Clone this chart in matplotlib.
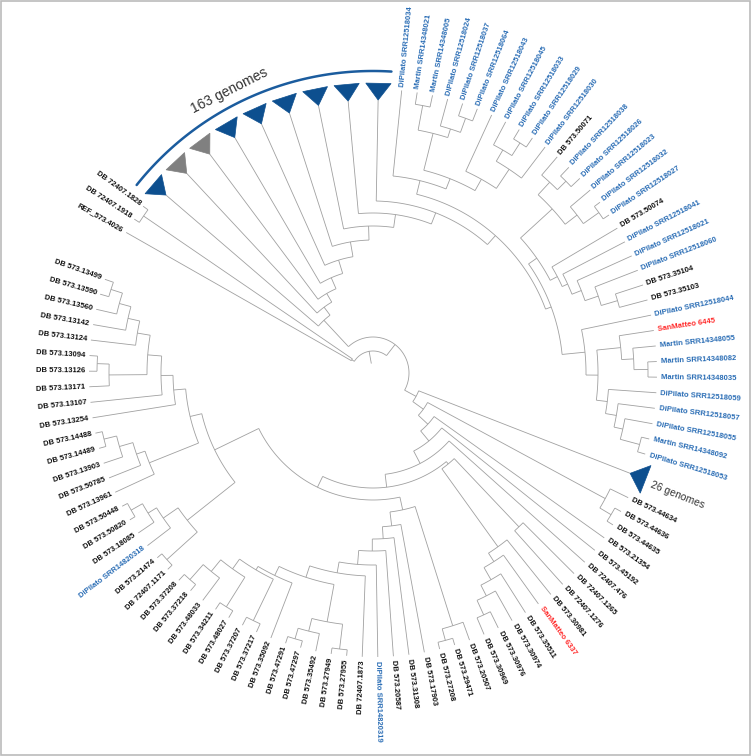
import numpy as np
import matplotlib.pyplot as plt
from matplotlib.patches import Polygon, Rectangle

plt.rcParams['font.family'] = ['Liberation Sans', 'DejaVu Sans']

# leaf order, clockwise starting at the reference strain
group_ref = ['REF_573.4026', 'DB 72407.1918', 'DB 72407.1828']
collapsed_top = ['T1', 'T2', 'T3', 'T4', 'T5', 'T6', 'T7', 'T8', 'T9']
collapsed_colors = {'T1': '#0d4f8f', 'T2': '#808080', 'T3': '#808080', 'T4': '#0d4f8f',
                    'T5': '#0d4f8f', 'T6': '#0d4f8f', 'T7': '#0d4f8f', 'T8': '#0d4f8f',
                    'T9': '#0d4f8f', 'T26': '#0d4f8f'}
group_right = ['DiPilato SRR12518034', 'Martin SRR14348021', 'Martin SRR14348005',
               'DiPilato SRR12518024', 'DiPilato SRR12518037', 'DiPilato SRR12518064',
               'DiPilato SRR12518043', 'DiPilato SRR12518045', 'DiPilato SRR12518033',
               'DiPilato SRR12518029', 'DiPilato SRR12518030', 'DB 573.50071',
               'DiPilato SRR12518038', 'DiPilato SRR12518026', 'DiPilato SRR12518023',
               'DiPilato SRR12518032', 'DiPilato SRR12518027', 'DB 573.50074',
               'DiPilato SRR12518041', 'DiPilato SRR12518021', 'DiPilato SRR12518060',
               'DB 573.35104', 'DB 573.35103', 'DiPilato SRR12518044', 'SanMatteo 6445',
               'Martin SRR14348055', 'Martin SRR14348082', 'Martin SRR14348035',
               'DiPilato SRR12518059', 'DiPilato SRR12518057', 'DiPilato SRR12518055',
               'Martin SRR14348092', 'DiPilato SRR12518053']
group_bottom = ['DB 573.44634', 'DB 573.44636', 'DB 573.44635', 'DB 573.21354',
                'DB 573.45192', 'DB 72407.476', 'DB 72407.1265', 'DB 72407.1276',
                'DB 573.30981', 'SanMatteo 6337', 'DB 573.35511', 'DB 573.30974',
                'DB 573.30976', 'DB 573.30969', 'DB 573.20507', 'DB 573.29471',
                'DB 573.27208', 'DB 573.17903', 'DB 573.31308', 'DB 573.20587',
                'DiPilato SRR14820319', 'DB 72407.1873', 'DB 573.27955', 'DB 573.27949',
                'DB 573.35492', 'DB 573.47297', 'DB 573.47291', 'DB 573.35092',
                'DB 573.37217', 'DB 573.37207', 'DB 573.48027', 'DB 573.34211',
                'DB 573.48033', 'DB 573.37218', 'DB 573.37208', 'DB 72407.1171',
                'DB 573.21474', 'DiPilato SRR14820318', 'DB 573.18085', 'DB 573.50820',
                'DB 573.50448', 'DB 573.13961', 'DB 573.50785', 'DB 573.13903',
                'DB 573.14489', 'DB 573.14488', 'DB 573.13254', 'DB 573.13107',
                'DB 573.13171', 'DB 573.13126', 'DB 573.13094', 'DB 573.13124',
                'DB 573.13142', 'DB 573.13560', 'DB 573.13590', 'DB 573.13499']

order = group_ref + collapsed_top + group_right + ['T26'] + group_bottom


def N(r, *kids):
    return {'r': r, 'kids': list(kids)}


# tree topology with node depths (pixels from the root)
A = N(25, 'REF_573.4026', N(278, 'DB 72407.1918', 'DB 72407.1828'))
G1a = N(198, 'DiPilato SRR12518034',
        N(209, N(247, N(272, 'Martin SRR14348021', 'Martin SRR14348005'),
                 N(256, 'DiPilato SRR12518024', N(271, 'DiPilato SRR12518037', 'DiPilato SRR12518064'))),
          N(222, 'DiPilato SRR12518043',
            N(245, N(258, 'DiPilato SRR12518045', N(273, 'DiPilato SRR12518033', 'DiPilato SRR12518029')),
              'DiPilato SRR12518030'))))
G1b = N(243, N(260, 'DB 573.50071', N(272, 'DiPilato SRR12518038', 'DiPilato SRR12518026')),
        N(258, 'DiPilato SRR12518023', N(277, 'DiPilato SRR12518032', 'DiPilato SRR12518027')))
G1c = N(208, 'DB 573.50074', N(214, 'DiPilato SRR12518041',
                                N(224, 'DiPilato SRR12518021',
                                  N(238, 'DiPilato SRR12518060', N(255, 'DB 573.35104', 'DB 573.35103')))))
G1d = N(213, 'DiPilato SRR12518044',
        N(225, N(249, 'SanMatteo 6445', N(261, 'Martin SRR14348055',
                                          N(275, 'Martin SRR14348082', 'Martin SRR14348035'))),
          N(236, 'DiPilato SRR12518059', N(247, 'DiPilato SRR12518057',
                                           N(256, 'DiPilato SRR12518055',
                                             N(276, 'Martin SRR14348092', 'DiPilato SRR12518053'))))))
G1 = N(184, G1a, N(190, N(200, G1b, G1c), G1d))
U8 = N(172, 'T9', G1)
U7 = N(160, 'T8', U8)
U6 = N(147, 'T7', U7)
U5 = N(133, 'T6', U6)
U4 = N(118, 'T5', U5)
U3 = N(104, 'T4', U4)
U2 = N(92, 'T3', U3)
U1 = N(82, 'T2', U2)
U0 = N(72, 'T1', U1)

G446 = N(264, 'DB 573.44634', N(277, 'DB 573.44636', 'DB 573.44635'))
G1265 = N(212, 'DB 72407.1265', 'DB 72407.1276')
G30981 = N(214, 'DB 573.30981', N(224, 'SanMatteo 6337', N(238, 'DB 573.35511',
                                   N(250, 'DB 573.30974', N(266, 'DB 573.30976', 'DB 573.30969')))))
X = N(118, G1265, G30981)
G20507 = N(265, 'DB 573.20507', N(277, 'DB 573.29471', 'DB 573.27208'))
BotR = N(253, N(278, 'DB 573.27955', 'DB 573.27949'),
         N(266, 'DB 573.35492', N(277, 'DB 573.47297', 'DB 573.47291')))
BotL = N(225, 'DB 573.35092',
         N(229, N(275, 'DB 573.37217', 'DB 573.37207'),
           N(241, N(276, 'DB 573.48027', 'DB 573.34211'),
             N(256, 'DB 573.48033', N(276, 'DB 573.37218', 'DB 573.37208')))))
Bot7 = N(215, BotR, BotL)
Bot6 = N(203, 'DB 72407.1873', Bot7)
Bot5 = N(192, 'DiPilato SRR14820319', Bot6)
Bot4 = N(178, 'DB 573.20587', Bot5)
Bot3 = N(166, 'DB 573.31308', Bot4)
Bot2 = N(154, 'DB 573.17903', Bot3)
Bot = N(140, G20507, Bot2)
W2 = N(237, N(278, 'DB 72407.1171', 'DB 573.21474'),
       N(255, 'DiPilato SRR14820318', N(265, 'DB 573.18085', N(278, 'DB 573.50820', 'DB 573.50448'))))
G13961 = N(241, 'DB 573.13961', N(250, 'DB 573.50785',
                                   N(264, 'DB 573.13903', N(277, 'DB 573.14489', 'DB 573.14488'))))
G13 = N(200, 'DB 573.13254',
        N(212, 'DB 573.13107',
          N(226, N(264, 'DB 573.13171', N(276, 'DB 573.13126', 'DB 573.13094')),
            N(239, 'DB 573.13124', N(251, 'DB 573.13142',
                                     N(263, 'DB 573.13560', N(275, 'DB 573.13590', 'DB 573.13499')))))))
XL = N(188, G13961, G13)
W = N(176, W2, XL)
Q = N(127, Bot, W)
P = N(115, X, Q)
L4 = N(102, 'DB 72407.476', P)
L3 = N(88, 'DB 573.45192', L4)
L2 = N(75, 'DB 573.21354', L3)
L1 = N(62, G446, L2)
L0 = N(49, 'T26', L1)
C = N(36, U0, L0)
ROOT = N(22, A, C)

# ---- geometry ----
CX, CY = 373, 373
R_TIP, R_LAB = 284, 288
GAP = 2.3
widths = [2.0 if o in collapsed_colors else 1.0 for o in order]
u_of = {}
pos = 0.0
for o, w in zip(order, widths):
    u_of[o] = pos + w / 2
    pos += w
STEP = 360.0 / (pos + GAP)
U_FIRST = u_of['DiPilato SRR12518034']


def ang(u):
    return 84.2 + STEP * (U_FIRST - u)


def xy(r, a):
    t = np.radians(a)
    return CX + r * np.cos(t), CY - r * np.sin(t)


fig = plt.figure(figsize=(7.51, 7.56), dpi=100)
ax = fig.add_axes([0, 0, 1, 1])
ax.set_xlim(0, 751)
ax.set_ylim(756, 0)
ax.axis('off')

LC = '#a0a0a0'
LW = 0.6


def draw(node):
    if isinstance(node, str):
        return u_of[node]
    us = [draw(k) for k in node['kids']]
    r = node['r']
    uu = np.linspace(us[0], us[-1], 60)
    px, py = xy(r, ang(uu))
    ax.plot(px, py, color=LC, lw=LW, solid_capstyle='butt')
    for k, u in zip(node['kids'], us):
        if isinstance(k, str):
            if k in collapsed_colors:
                r_end = 276 if k == 'T26' else 273
            else:
                r_end = R_TIP
        else:
            r_end = k['r']
        x0, y0 = xy(r, ang(u))
        x1, y1 = xy(r_end, ang(u))
        ax.plot([x0, x1], [y0, y1], color=LC, lw=LW, solid_capstyle='butt')
    return (us[0] + us[-1]) / 2


u_root = draw(ROOT)
x0, y0 = xy(10, ang(u_root))
x1, y1 = xy(ROOT['r'], ang(u_root))
ax.plot([x0, x1], [y0, y1], color=LC, lw=LW)

# collapsed clades as triangles
for k, col in collapsed_colors.items():
    a = ang(u_of[k])
    big = k == 'T26'
    r_in, r_out = (276, 293) if big else (273, 290)
    half = 2.9 if big else 2.5
    pts = [xy(r_in, a), xy(r_out, a - half), xy(r_out, a + half)]
    ax.add_patch(Polygon(pts, closed=True, facecolor=col, edgecolor=col, lw=0.5, zorder=3))

# tip labels
for name in order:
    if name in collapsed_colors:
        continue
    if name.startswith('DiPilato') or name.startswith('Martin'):
        col = '#2a6db5'
    elif name.startswith('SanMatteo'):
        col = '#ff2a2a'
    else:
        col = '#111111'
    a = ang(u_of[name])
    an = (a + 180) % 360 - 180
    if -90 <= an <= 90:
        rot, ha = an, 'left'
    else:
        rot, ha = an - 180 if an > 0 else an + 180, 'right'
    x, y = xy(R_LAB, a)
    ax.text(x, y, name, rotation=rot, rotation_mode='anchor', ha=ha, va='center',
            fontsize=5.5, fontweight='bold', color=col)

# annotation for the big collapsed block
aa = np.linspace(86.5, 141.5, 100)
px, py = xy(302, aa)
ax.plot(px, py, color='#1b5c9e', lw=1.8, solid_capstyle='round')
tx, ty = xy(317, 117)
ax.text(tx, ty, '163 genomes', rotation=27, rotation_mode='anchor', ha='center',
        va='center', fontsize=10, color='#333333')

a26 = ang(u_of['T26'])
tx, ty = xy(299, a26 - 0.5)
ax.text(tx, ty, '26 genomes', rotation=a26 - 0.5, rotation_mode='anchor', ha='left',
        va='center', fontsize=7.5, color='#333333')

ax.add_patch(Rectangle((0.5, 0.5), 749, 754, fill=False, edgecolor='#bbbbbb', lw=1.2))

fig.savefig('out.png', dpi=100)
